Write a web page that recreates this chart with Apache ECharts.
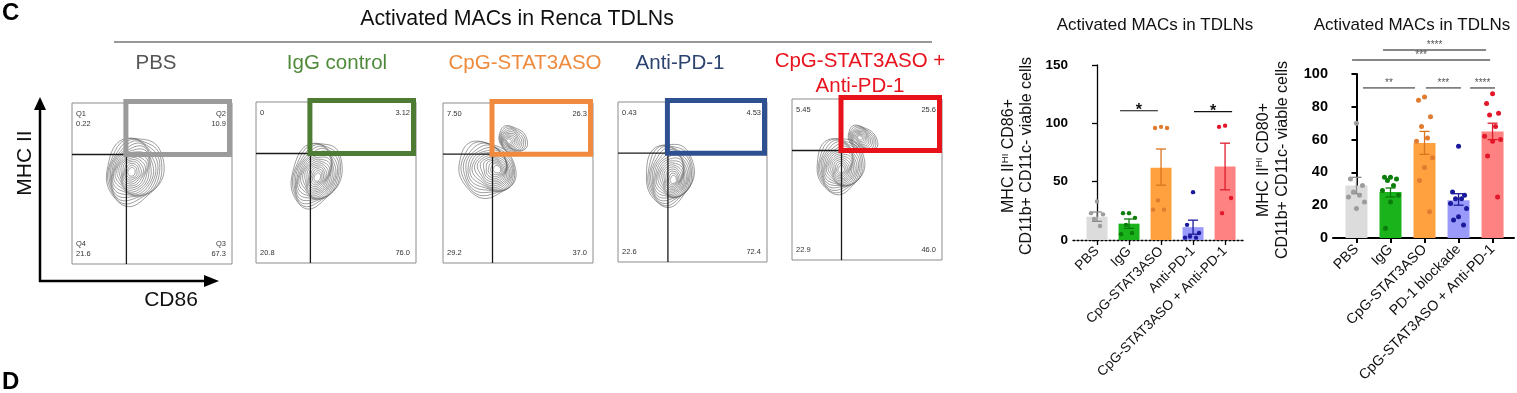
<!DOCTYPE html>
<html><head><meta charset="utf-8">
<script src="https://cdn.jsdelivr.net/npm/echarts@6/dist/echarts.min.js"></script>
<style>html,body{margin:0;padding:0;background:#fff}#c{width:1517px;height:393px}</style>
</head><body><div id="c"></div>
<script>
const FONT = "'Liberation Sans', Arial, Helvetica, sans-serif";

// ---------------- flow cytometry panels ----------------
const flowGroups = ['PBS', 'IgG control', 'CpG-STAT3ASO', 'Anti-PD-1', 'CpG-STAT3ASO +\nAnti-PD-1'];
const flowGroupColors = ['#555555', '#4f8a3a', '#ee8a3c', '#2c4370', '#e8141e'];
const gateColors = ['#9b9b9b', '#4e7c34', '#ef8a3e', '#2f5090', '#e8121a'];
const q1Values = ['0.22', '0', '7.50', '0.43', '5.45'];
const q2Values = ['10.9', '3.12', '26.3', '4.53', '25.6'];
const q3Values = ['67.3', '76.0', '37.0', '72.4', '46.0'];
const q4Values = ['21.6', '20.8', '29.2', '22.6', '22.9'];
const quadrantNames = ['Q1', 'Q2', 'Q3', 'Q4'];
const quadrantCuts = [[34, 68], [34, 68], [33, 68], [33.5, 68], [33, 68]];
// contour blobs: [cx, cy, rx, ry, rotationDeg, peakDx, peakDy, rings]
const contourBlobs = [
  [[39, 58, 17.5, 21.5, -20, -2, -1, 16]],
  [[37.5, 55, 15, 21, -22, 1, -2, 16]],
  [[29, 58.5, 19.5, 17, -25, 8, 0, 15], [46.5, 77, 10, 8, -30, -3, -1, 10]],
  [[34.5, 55, 16, 19.8, -10, 3, -4, 16]],
  [[32, 59, 15.8, 17.5, -15, 1, -3, 15], [47, 75, 10.5, 7.5, -30, -2, 1, 10]]
];

// ---------------- bar chart 1 ----------------
const bar1Categories = ['PBS', 'IgG', 'CpG-STAT3ASO', 'Anti-PD-1', 'CpG-STAT3ASO + Anti-PD-1'];
const bar1Means = [20, 14, 62, 11, 63];
const bar1SemLow = [16, 10, 47, 5, 43];
const bar1SemHigh = [24, 18, 78, 17, 83];
const bar1Points = [
  [33, 23, 22, 18, 12],
  [23, 23, 19, 13, 6, 5],
  [97, 96, 96, 34, 26, 26],
  [41, 13, 6, 3, 2, 2],
  [98, 97, 36, 23]
];
const bar1Brackets = [[0.72, 1.9, 110.8], [3.03, 4.22, 110]];
const bar1BracketLabels = ['*', '*'];

// ---------------- bar chart 2 ----------------
const bar2Categories = ['PBS', 'IgG', 'CpG-STAT3ASO', 'PD-1 blockade', 'CpG-STAT3ASO + Anti-PD-1'];
const bar2Means = [32, 28, 58, 23, 65];
const bar2SemLow = [27, 25, 51, 20, 60];
const bar2SemHigh = [37, 30.5, 65, 27, 70];
const bar2Points = [
  [70, 36, 32, 28, 26, 25, 22, 18],
  [37, 37, 36, 35, 32, 29, 26, 22, 6],
  [86, 84, 74, 68, 61, 59, 49, 43, 35, 16],
  [56, 28, 26, 24, 24, 21, 18, 13, 11, 8],
  [88, 82, 76, 75, 68, 62, 60, 59, 50, 25]
];
const bar2Brackets = [[0.19, 1.72, 91.5], [2.04, 3.07, 91.5], [3.34, 4.07, 91.5], [-0.13, 3.93, 108.5], [0.78, 3.81, 114.6]];
const bar2BracketLabels = ['**', '***', '****', '***', '****'];

const barColors = ['#dcdcdc', '#1bb31b', '#ffa13f', '#9a9afa', '#ff8282'];
const pointColors = ['#9c9c9c', '#0b7d0b', '#e07b30', '#1a1a9c', '#e3172a'];
const errColors = ['#8a8a8a', '#0b7a0b', '#d9741f', '#1a1a9a', '#e01b2b'];

// ---------------- layout ----------------
const flowGrids = [
  {left: 72, top: 103, width: 160, height: 161},
  {left: 256, top: 102, width: 160, height: 161},
  {left: 443, top: 103, width: 150, height: 160},
  {left: 618, top: 102, width: 149, height: 160},
  {left: 792, top: 99, width: 150, height: 161}
];
const groupLabelX = [156, 337, 525, 680, 860];

const grids = flowGrids.slice();
grids.push({left: 1073, top: 65, width: 170, height: 175});
grids.push({left: 1333, top: 74, width: 181, height: 164});

const xAxes = [], yAxes = [], series = [];

function flowFrame(i) {
  return function (params, api) {
    const p00 = api.coord([0, 0]), p11 = api.coord([100, 100]);
    const L = p00[0], B = p00[1], R = p11[0], T = p11[1];
    const cv = api.coord(quadrantCuts[i]);
    const fs = 7.5;
    const tStyle = (text, x, y, align, va) => ({type: 'text', z2: 5, style: {text, x, y, align, verticalAlign: va, fontSize: fs, fontFamily: FONT, fill: '#333', lineHeight: 10}});
    const tl = i === 0 ? quadrantNames[0] + '\n' + q1Values[i] : q1Values[i];
    const tr = i === 0 ? quadrantNames[1] + '\n' + q2Values[i] : q2Values[i];
    const br = i === 0 ? quadrantNames[2] + '\n' + q3Values[i] : q3Values[i];
    const bl = i === 0 ? quadrantNames[3] + '\n' + q4Values[i] : q4Values[i];
    const topY = T + 6, botY = B - 5;
    return {
      type: 'group',
      children: [
        {type: 'rect', shape: {x: L, y: T, width: R - L, height: B - T}, style: {fill: 'none', stroke: '#8c8c8c', lineWidth: 1}},
        {type: 'line', shape: {x1: cv[0], y1: T, x2: cv[0], y2: B}, style: {stroke: '#1a1a1a', lineWidth: 1.3}},
        {type: 'line', shape: {x1: L, y1: cv[1], x2: R, y2: cv[1]}, style: {stroke: '#1a1a1a', lineWidth: 1.3}},
        {type: 'rect', z2: 3, shape: {x: cv[0] - 0.5, y: T - 1.5, width: R - 2.5 - (cv[0] - 0.5), height: cv[1] - (T - 1.5)}, style: {fill: 'none', stroke: gateColors[i], lineWidth: 5}},
        tStyle(tl, L + 4, topY, 'left', 'top'),
        tStyle(tr, R - 6, topY, 'right', 'top'),
        tStyle(bl, L + 4, botY, 'left', 'bottom'),
        tStyle(br, R - 6, botY, 'right', 'bottom')
      ]
    };
  };
}

function contourItem(params, api) {
  const cx = api.value(0), cy = api.value(1), rx = api.value(2), ry = api.value(3);
  const rot = api.value(4) * Math.PI / 180, pdx = api.value(5), pdy = api.value(6), n = api.value(7);
  const children = [];
  for (let k = 0; k < n; k++) {
    const s = 1 - (k / n) * 0.93;
    const ccx = cx + pdx * (1 - s), ccy = cy + pdy * (1 - s);
    const pts = [];
    for (let t = 0; t < 48; t++) {
      const th = t / 48 * 2 * Math.PI;
      const w = 1 + 0.05 * Math.sin(3 * th + k * 0.6) + 0.03 * Math.cos(5 * th + k);
      const ex = rx * s * w * Math.cos(th), ey = ry * s * w * Math.sin(th);
      const x = ccx + ex * Math.cos(rot) - ey * Math.sin(rot);
      const y = ccy + ex * Math.sin(rot) + ey * Math.cos(rot);
      pts.push(api.coord([x, y]));
    }
    children.push({type: 'polygon', shape: {points: pts}, style: {fill: 'none', stroke: '#5a5a5a', lineWidth: 0.6}});
  }
  return {type: 'group', children};
}

for (let i = 0; i < 5; i++) {
  xAxes.push({gridIndex: i, type: 'value', min: 0, max: 100, show: false});
  yAxes.push({gridIndex: i, type: 'value', min: 0, max: 100, show: false});
  series.push({type: 'custom', xAxisIndex: i, yAxisIndex: i, z: 1, clip: false, silent: true,
    data: contourBlobs[i], renderItem: contourItem});
  series.push({type: 'custom', xAxisIndex: i, yAxisIndex: i, z: 2, clip: false, silent: true,
    data: [[0, 0]], renderItem: flowFrame(i)});
}

// ---------------- bar charts ----------------
const jitter = [0, -6, 6, -3, 3, -8, 8, 0, -5, 5];

function addBarChart(gi, cats, means, lo, hi, pts, brackets, bracketLabels, cfg) {
  xAxes.push({
    gridIndex: gi, type: 'value', min: cfg.xmin, max: cfg.xmax,
    splitLine: {show: false},
    axisLine: {show: true, onZero: false, lineStyle: {color: '#000', width: cfg.axisW, type: cfg.xLineType}},
    axisTick: {show: true, customValues: [0, 1, 2, 3, 4], length: 5, lineStyle: {color: '#000', width: cfg.axisW}},
    axisLabel: {show: true, customValues: [0, 1, 2, 3, 4], rotate: 45, margin: 9,
      formatter: v => cats[Math.round(v)], fontSize: cfg.catFont, fontFamily: FONT, color: '#111'}
  });
  yAxes.push({
    gridIndex: gi, type: 'value', min: 0, max: cfg.ymax, interval: cfg.yint,
    splitLine: {show: false},
    axisLine: {show: true, lineStyle: {color: '#000', width: cfg.axisW}},
    axisTick: {show: true, length: 5, lineStyle: {color: '#000', width: cfg.axisW}},
    axisLabel: {fontSize: cfg.yFont, fontWeight: 'bold', fontFamily: FONT, color: '#000', margin: 5}
  });
  series.push({
    type: 'bar', xAxisIndex: gi, yAxisIndex: gi, barWidth: cfg.barW, silent: true,
    data: means.map((v, i) => ({value: [i, v], itemStyle: {color: barColors[i]}}))
  });
  series.push({
    type: 'custom', xAxisIndex: gi, yAxisIndex: gi, clip: false, silent: true, z: 4,
    data: means.map((v, i) => [i, lo[i], hi[i]]),
    renderItem: (p, api) => {
      const i = api.value(0);
      const a = api.coord([i, api.value(1)]), b = api.coord([i, api.value(2)]);
      const st = {stroke: errColors[i], lineWidth: 1.3};
      return {type: 'group', children: [
        {type: 'line', shape: {x1: a[0], y1: a[1], x2: b[0], y2: b[1]}, style: st},
        {type: 'line', shape: {x1: a[0] - 5, y1: a[1], x2: a[0] + 5, y2: a[1]}, style: st},
        {type: 'line', shape: {x1: b[0] - 5, y1: b[1], x2: b[0] + 5, y2: b[1]}, style: st}
      ]};
    }
  });
  const pdata = [];
  pts.forEach((arr, i) => arr.forEach((v, j) => pdata.push([i, v, j])));
  series.push({
    type: 'custom', xAxisIndex: gi, yAxisIndex: gi, clip: false, silent: true, z: 5,
    data: pdata,
    renderItem: (p, api) => {
      const i = api.value(0), j = api.value(2);
      const c = api.coord([i, api.value(1)]);
      return {type: 'circle', shape: {cx: c[0] + jitter[j % jitter.length], cy: c[1], r: cfg.ptR}, style: {fill: pointColors[i]}};
    }
  });
  series.push({
    type: 'custom', xAxisIndex: gi, yAxisIndex: gi, clip: false, silent: true, z: 5,
    data: brackets,
    renderItem: (p, api) => {
      const idx = p.dataIndex;
      const a = api.coord([api.value(0), api.value(2)]), b = api.coord([api.value(1), api.value(2)]);
      const s = cfg.bracketStyle(idx);
      return {type: 'group', children: [
        {type: 'line', shape: {x1: a[0], y1: a[1], x2: b[0], y2: b[1]}, style: {stroke: s.stroke, lineWidth: s.lw}},
        {type: 'text', style: {text: bracketLabels[idx], x: (a[0] + b[0]) / 2, y: a[1] + s.dy, align: 'center', verticalAlign: 'bottom',
          fontSize: s.fs, fontFamily: FONT, fill: s.fill, fontWeight: s.fw}}
      ]};
    }
  });
}

addBarChart(5, bar1Categories, bar1Means, bar1SemLow, bar1SemHigh, bar1Points, bar1Brackets, bar1BracketLabels, {
  xmin: -0.75, xmax: 4.56, ymax: 150, yint: 50, axisW: 1.3, xLineType: [2, 2], catFont: 13.7, yFont: 13.5, barW: 21, ptR: 2.2,
  bracketStyle: () => ({stroke: '#111', lw: 1.1, fs: 16, fill: '#111', fw: 'bold', dy: 8})
});
addBarChart(6, bar2Categories, bar2Means, bar2SemLow, bar2SemHigh, bar2Points, bar2Brackets, bar2BracketLabels, {
  xmin: -0.69, xmax: 4.63, ymax: 100, yint: 20, axisW: 2, xLineType: 'solid', catFont: 14.3, yFont: 14.5, barW: 22, ptR: 2.5,
  bracketStyle: (i) => i < 3 ? ({stroke: '#808080', lw: 1.8, fs: 10, fill: '#555', fw: 'normal', dy: 0})
                             : ({stroke: '#111', lw: 1.1, fs: 10, fill: '#555', fw: 'normal', dy: 0})
});

// ---------------- static annotations ----------------
const T = (text, x, y, o, extra) => Object.assign({type: 'text', x, y, style: Object.assign({text, fontFamily: FONT, fill: '#111', align: 'center', verticalAlign: 'middle'}, o || {})}, extra || {});
const graphic = [
  T('C', 2, 1, {fontSize: 24, fontWeight: 'bold', align: 'left', verticalAlign: 'top', fill: '#000'}),
  T('D', 2, 370, {fontSize: 24, fontWeight: 'bold', align: 'left', verticalAlign: 'top', fill: '#000'}),
  T('Activated MACs in Renca TDLNs', 517, 19, {fontSize: 21.3}),
  {type: 'line', shape: {x1: 114, y1: 42, x2: 932, y2: 42}, style: {stroke: '#333', lineWidth: 1.2}},
  T('MHC II', 25, 163, {fontSize: 21}, {rotation: Math.PI / 2}),
  T('CD86', 171, 300, {fontSize: 21}),
  {type: 'line', shape: {x1: 40, y1: 282, x2: 40, y2: 106}, style: {stroke: '#000', lineWidth: 2.5}},
  {type: 'polygon', shape: {points: [[40, 97], [34, 110], [46, 110]]}, style: {fill: '#000'}},
  {type: 'line', shape: {x1: 39, y1: 281, x2: 208, y2: 281}, style: {stroke: '#000', lineWidth: 2.5}},
  {type: 'polygon', shape: {points: [[219, 281], [204, 275], [204, 287]]}, style: {fill: '#000'}},
  T('Activated MACs in TDLNs', 1155, 25, {fontSize: 17}),
  T('Activated MACs in TDLNs', 1412, 25, {fontSize: 17})
];
flowGroups.forEach((g, i) => {
  graphic.push(T(g, groupLabelX[i], i === 4 ? 73.5 : 63, {fontSize: 20.5, fill: flowGroupColors[i], lineHeight: 25}));
});
const yNameRich = {a: {fontSize: 16, fontFamily: FONT, fill: '#111', lineHeight: 18}, s: {fontSize: 9.5, fontFamily: FONT, fill: '#111', verticalAlign: 'top', lineHeight: 18}};
graphic.push({type: 'text', x: 1018, y: 156, rotation: Math.PI / 2,
  style: {text: '{a|MHC II}{s|HI}{a| CD86+}\n{a|CD11b+ CD11c- viable cells}', rich: yNameRich, align: 'center', verticalAlign: 'middle'}});
graphic.push({type: 'text', x: 1273, y: 160, rotation: Math.PI / 2,
  style: {text: '{a|MHC II}{s|HI}{a| CD80+}\n{a|CD11b+ CD11c- viable cells}', rich: {a: Object.assign({}, yNameRich.a, {lineHeight: 19}), s: Object.assign({}, yNameRich.s, {lineHeight: 19})}, align: 'center', verticalAlign: 'middle'}});

const chart = echarts.init(document.getElementById('c'), null, {renderer: 'canvas'});
chart.setOption({
  backgroundColor: '#fff',
  animation: false,
  grid: grids,
  xAxis: xAxes,
  yAxis: yAxes,
  series,
  graphic
});
</script></body></html>
